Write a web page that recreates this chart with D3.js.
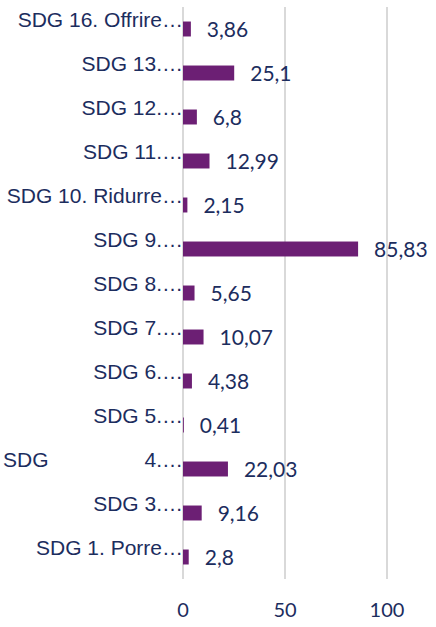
<!DOCTYPE html>
<html>
<head>
<meta charset="utf-8">
<script src="https://cdn.jsdelivr.net/npm/d3@7"></script>
<style>
  html, body { margin: 0; padding: 0; background: #ffffff; }
  svg { display: block; }
</style>
</head>
<body>
<svg id="chart" width="436" height="627"></svg>
<script>
// Categories, bottom to top as in the source chart
const categories = [
  "SDG 1. Porre…",
  "SDG 3.…",
  "SDG 4.…",
  "SDG 5.…",
  "SDG 6.…",
  "SDG 7.…",
  "SDG 8.…",
  "SDG 9.…",
  "SDG 10. Ridurre…",
  "SDG 11.…",
  "SDG 12.…",
  "SDG 13.…",
  "SDG 16. Offrire…"
];
const values = [2.8, 9.16, 22.03, 0.41, 4.38, 10.07, 5.65, 85.83, 2.15, 12.99, 6.8, 25.1, 3.86];
const tickValues = [0, 50, 100];
const justifiedLabels = ["SDG 4.…"];

const navy = "#1c2d5e";
const barColor = "#6c1f74";
const gridColor = "#d9d9d9";

const svg = d3.select("#chart");

const x = d3.scaleLinear().domain([0, 100]).range([183, 387]);
const y = d3.scaleBand()
  .domain(categories.slice().reverse())
  .range([7, 579])
  .paddingInner(0.66)
  .paddingOuter(0.33);

// gridlines
svg.append("g").selectAll("line")
  .data(tickValues)
  .join("line")
  .attr("x1", d => x(d)).attr("x2", d => x(d))
  .attr("y1", 7).attr("y2", 579)
  .attr("stroke", gridColor)
  .attr("stroke-width", 2);

// x tick labels
svg.append("g").selectAll("text")
  .data(tickValues)
  .join("text")
  .attr("x", d => x(d))
  .attr("y", 617)
  .attr("text-anchor", "middle")
  .attr("font-family", "Lato, 'Open Sans', sans-serif")
  .attr("font-size", 20)
  .attr("fill", navy)
  .text(d => d);

const data = categories.map((c, i) => ({ c, v: values[i] }));

// bars
svg.append("g").selectAll("rect")
  .data(data)
  .join("rect")
  .attr("x", x(0))
  .attr("y", d => y(d.c))
  .attr("width", d => x(d.v) - x(0))
  .attr("height", y.bandwidth())
  .attr("fill", barColor);

// category labels
const catG = svg.append("g")
  .attr("font-family", "'Liberation Sans', Arial, sans-serif")
  .attr("font-size", 21)
  .attr("fill", navy);

data.forEach(d => {
  const cy = y(d.c) + y.bandwidth() / 2;
  if (justifiedLabels.includes(d.c)) {
    const idx = d.c.indexOf(" ");
    catG.append("text")
      .attr("x", 3).attr("y", cy - 2)
      .attr("text-anchor", "start")
      .text(d.c.slice(0, idx));
    catG.append("text")
      .attr("x", 183).attr("y", cy - 2)
      .attr("text-anchor", "end")
      .text(d.c.slice(idx + 1));
  } else {
    catG.append("text")
      .attr("x", 183).attr("y", cy - 2)
      .attr("text-anchor", "end")
      .text(d.c);
  }
});

// value labels
svg.append("g").selectAll("text")
  .data(data)
  .join("text")
  .attr("x", d => x(d.v) + 16)
  .attr("y", d => y(d.c) + y.bandwidth() / 2 + 8)
  .attr("font-family", "Lato, 'Open Sans', sans-serif")
  .attr("font-size", 21)
  .attr("fill", navy)
  .text(d => String(d.v).replace(".", ","));
</script>
</body>
</html>
